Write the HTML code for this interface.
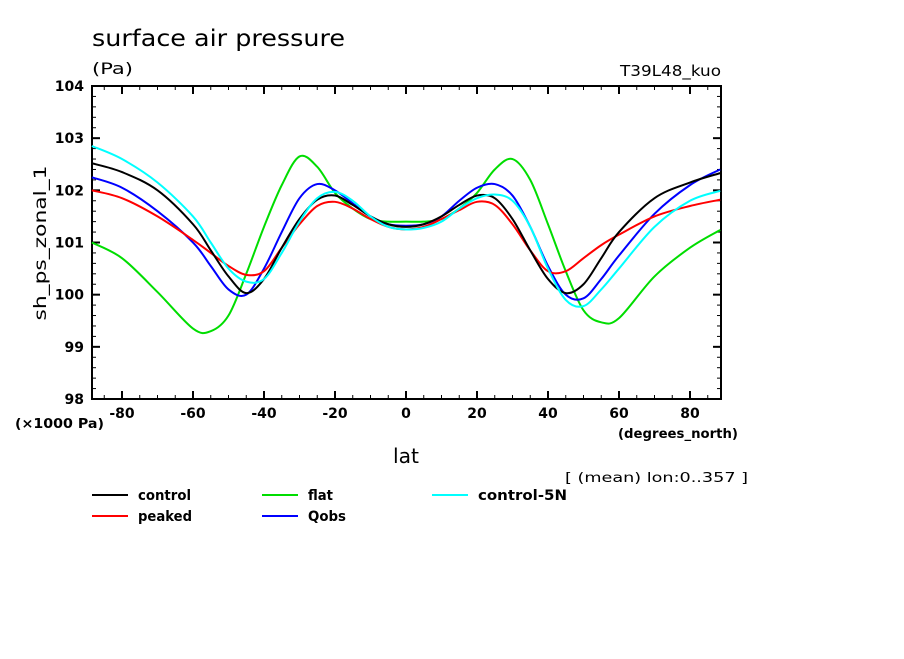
<!DOCTYPE html>
<html><head><meta charset="utf-8"><style>
body{margin:0;background:#fff;}
svg text{font-family:"DejaVu Sans","Liberation Sans",sans-serif;fill:#000;}
</style></head><body>
<svg id="c" width="904" height="654" xmlns="http://www.w3.org/2000/svg">
<text x="92" y="46" font-size="23" textLength="253" lengthAdjust="spacingAndGlyphs">surface air pressure</text>
<text x="92" y="74" font-size="16" textLength="41" lengthAdjust="spacingAndGlyphs">(Pa)</text>
<text x="620" y="76" font-size="15" textLength="101" lengthAdjust="spacingAndGlyphs">T39L48_kuo</text>
<text x="15" y="428" font-size="13" font-weight="bold" textLength="89" lengthAdjust="spacingAndGlyphs">(×1000 Pa)</text>
<text x="618" y="438" font-size="13" font-weight="bold" textLength="120" lengthAdjust="spacingAndGlyphs">(degrees_north)</text>
<text x="393" y="463" font-size="20" textLength="26" lengthAdjust="spacingAndGlyphs">lat</text>
<text x="46" y="243" font-size="17" text-anchor="middle" textLength="155" lengthAdjust="spacingAndGlyphs" transform="rotate(-90 46 243)">sh_ps_zonal_1</text>
<text x="565" y="482" font-size="13" textLength="183" lengthAdjust="spacingAndGlyphs">[ (mean) lon:0..357 ]</text>
<g id="axes"></g>
<g id="series"></g>
<g id="legend"></g>
</svg>
<script>
const lats=[-88.5,-80,-70,-60,-55,-50,-45,-40,-35,-30,-25,-20,-15,-10,-5,0,5,10,15,20,25,30,35,40,45,50,55,60,70,80,88.5];
const control=[102.52,102.35,102.0,101.35,100.85,100.35,100.03,100.3,100.9,101.45,101.82,101.9,101.72,101.5,101.35,101.3,101.35,101.5,101.72,101.9,101.85,101.45,100.85,100.3,100.03,100.2,100.7,101.2,101.85,102.15,102.33];
const peaked=[102.0,101.85,101.5,101.05,100.8,100.55,100.38,100.45,100.9,101.35,101.7,101.78,101.65,101.45,101.3,101.25,101.3,101.45,101.62,101.78,101.72,101.35,100.85,100.45,100.45,100.7,100.95,101.15,101.5,101.7,101.82];
const flat=[101.0,100.7,100.05,99.35,99.3,99.6,100.4,101.3,102.1,102.65,102.45,101.95,101.65,101.45,101.4,101.4,101.4,101.45,101.65,101.95,102.4,102.6,102.2,101.35,100.45,99.7,99.47,99.55,100.35,100.9,101.24];
const qobs=[102.25,102.05,101.6,101.0,100.55,100.1,100.0,100.5,101.2,101.85,102.12,102.0,101.75,101.5,101.35,101.32,101.35,101.5,101.8,102.05,102.12,101.9,101.3,100.55,100.0,99.93,100.3,100.75,101.55,102.1,102.4];
const control5N=[102.85,102.6,102.15,101.5,101.0,100.5,100.25,100.3,100.8,101.4,101.85,101.97,101.8,101.5,101.3,101.25,101.28,101.4,101.65,101.85,101.92,101.8,101.3,100.5,99.9,99.78,100.1,100.5,101.3,101.8,101.99];
const xTicks=[-80,-60,-40,-20,0,20,40,60,80];
const yTicks=[98,99,100,101,102,103,104];
const seriesNames=["control","peaked","flat","Qobs","control-5N"];
const NS="http://www.w3.org/2000/svg";
const X0=92,X1=721,Y0=86,Y1=399;
const xs=v=>406+v*3.55;
const ys=v=>Y1-(v-98)*(Y1-Y0)/6;
function mk(t,a,p){const e=document.createElementNS(NS,t);for(const k in a)e.setAttribute(k,a[k]);p.appendChild(e);return e;}
const ax=document.getElementById('axes');
const frame=mk('rect',{x:X0,y:Y0,width:X1-X0,height:Y1-Y0,fill:'none',stroke:'#000','stroke-width':2},ax);


for(let v=98;v<=104.001;v+=0.2){const y=ys(v);const maj=Math.abs(v-Math.round(v))<0.01;const L=maj?8:4;
mk('line',{x1:X0,y1:y,x2:X0+L,y2:y,stroke:'#000','stroke-width':maj?2:1},ax);
mk('line',{x1:X1,y1:y,x2:X1-L,y2:y,stroke:'#000','stroke-width':maj?2:1},ax);}
for(let v=-85;v<=85;v+=5){const x=xs(v);const maj=v%20===0;const L=maj?8:4;
mk('line',{x1:x,y1:Y1,x2:x,y2:Y1-L,stroke:'#000','stroke-width':maj?2:1},ax);
mk('line',{x1:x,y1:Y0,x2:x,y2:Y0+L,stroke:'#000','stroke-width':maj?2:1},ax);}
yTicks.forEach(v=>{const t=mk('text',{x:X0-8,y:ys(v)+5,'font-size':14,'font-weight':'bold','text-anchor':'end'},ax);t.textContent=v;

});
xTicks.forEach(v=>{const t=mk('text',{x:xs(v),y:Y1+19,'font-size':14,'font-weight':'bold','text-anchor':'middle'},ax);t.textContent=v;

});
function path(vals){const p=lats.map((l,i)=>[xs(l),ys(vals[i])]);let d='M'+p[0][0]+','+p[0][1];
for(let i=0;i<p.length-1;i++){const a=p[Math.max(0,i-1)],b=p[i],c=p[i+1],e=p[Math.min(p.length-1,i+2)];
d+=' C'+(b[0]+(c[0]-a[0])/6)+','+(b[1]+(c[1]-a[1])/6)+' '+(c[0]-(e[0]-b[0])/6)+','+(c[1]-(e[1]-b[1])/6)+' '+c[0]+','+c[1];}return d;}
const sg=document.getElementById('series');
const data=[control,peaked,flat,qobs,control5N];
const cols=['#000','#f00','#0d0','#00f','#0ff'];
const drawOrder=[2,3,1,0,4];
drawOrder.forEach(i=>{const e=mk('path',{d:path(data[i]),fill:'none',stroke:cols[i],'stroke-width':2},sg);

});
const lg=document.getElementById('legend');
const lpos=[[92,495,138],[92,516,138],[262,495,308],[262,516,308],[432,495,478]];
const lw=[53,54,25,38,89];
seriesNames.forEach((n,i)=>{const g=mk('g',{},lg);


const [x,y,tx]=lpos[i];mk('line',{x1:x,y1:y,x2:x+36,y2:y,stroke:cols[i],'stroke-width':2},g);
const t=mk('text',{x:tx,y:y+5,'font-size':14,'font-weight':'bold',textLength:lw[i],lengthAdjust:'spacingAndGlyphs'},g);t.textContent=n;});
</script>
</body></html>
